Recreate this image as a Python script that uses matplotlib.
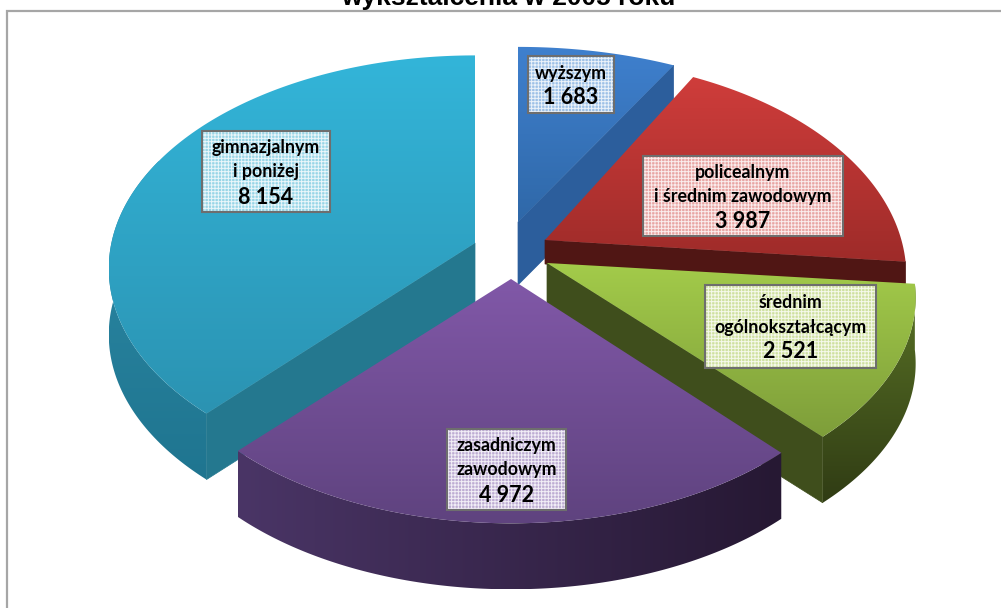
import numpy as np
import matplotlib
matplotlib.use("Agg")
import matplotlib.pyplot as plt
from matplotlib.patches import Polygon, Rectangle

# ---- data ----
categories = ["wyższym", "policealnym\ni średnim zawodowym", "średnim\nogólnokształcącym",
              "zasadniczym\nzawodowym", "gimnazjalnym\ni poniżej"]
values = [1683, 3987, 2521, 4972, 8154]
title_text = "wykształcenia w 2005 roku"

# ---- styles / layout (pixel space) ----
top_light = ["#3F80CE", "#CF3D3B", "#A3CB4A", "#8158A8", "#33B5D9"]
top_dark = ["#2F68A8", "#9E2B29", "#7E9E3A", "#5F437F", "#2B93B2"]
cut_col = ["#2C5E9C", "#501614", "#3F4E1C", "#3A2A55", "#24788F"]
rim_l = ["#2C5E9C", "#501614", "#5A7326", "#4A3566", "#2D8AA6"]
rim_r = ["#2C5E9C", "#501614", "#303C14", "#261833", "#1F7590"]
apex = [(518, 222), (545, 240), (547, 263), (511, 279), (475, 243)]
scale_x = [1.04, 0.99, 1.01, 0.99, 1.01]
scale_y = [1.0, 1.04, 1.0, 1.0, 1.03]
persp = [0.165, 0.165, 0.165, 0.165, 0.12]
depth = [63, 24, 66, 66, 66]
cut_at_start = [False, False, False, False, True]
box_pos = [(528, 56, 86, 57), (643, 156, 200, 80), (705, 285, 171, 83),
           (447, 429, 119, 81), (202, 131, 128, 81)]
box_tint = ["#9DC0E6", "#E8A5A3", "#CFE0A0", "#BDACD3", "#98D5E7"]
A, B = 360.0, 204.0

plt.rcParams["hatch.linewidth"] = 0.7
W, H = 1001, 608
fig = plt.figure(figsize=(W / 100, H / 100), dpi=100)
ax = fig.add_axes([0, 0, 1, 1])
ax.set_xlim(0, W)
ax.set_ylim(H, 0)
ax.axis("off")

ax.plot([7, 7, W], [H, 11, 11], color="#A6A6A6", lw=1.6, zorder=1, solid_joinstyle="miter")
ax.text(508, 5, title_text, ha="center", va="baseline", fontsize=19, fontweight="bold",
        family="Liberation Sans", color="black", clip_on=False)


def project(theta, i):
    X, Y = np.sin(theta), np.cos(theta)
    d = 1 + persp[i] * Y
    return apex[i][0] + scale_x[i] * A * X / d, apex[i][1] - scale_y[i] * B * Y / d


def hex2rgb(c):
    return np.array(matplotlib.colors.to_rgb(c))


def grad_fill(poly, c1, c2, z, horizontal=False):
    p = Polygon(poly, closed=True, fc="none", ec="none", zorder=z)
    ax.add_patch(p)
    xmin, ymin = poly.min(axis=0)
    xmax, ymax = poly.max(axis=0)
    t = np.linspace(0, 1, 128)
    col = hex2rgb(c1)[None, :] * (1 - t[:, None]) + hex2rgb(c2)[None, :] * t[:, None]
    img = col[None, :, :] if horizontal else col[:, None, :]
    im = ax.imshow(img, extent=(xmin, xmax, ymax, ymin), origin="upper", aspect="auto",
                   zorder=z, interpolation="bilinear")
    im.set_clip_path(p)


edges = np.concatenate([[0], np.cumsum(values)]) / sum(values) * 2 * np.pi
order = [0, 4, 1, 2, 3]
for n, i in enumerate(order):
    z = 2 + n
    t0, t1 = edges[i], edges[i + 1]
    th = np.linspace(t0, t1, 160)
    arc = np.column_stack(project(th, i))
    ap = np.array(apex[i], float)
    off = np.array([0, depth[i]])
    # outer rim
    if i in (2, 3, 4):
        mask = th < np.deg2rad(295)
        rim = np.vstack([arc[mask], (arc[mask] + off)[::-1]])
        grad_fill(rim, rim_l[i], rim_r[i], z, horizontal=(i == 3))
    # visible radial cut wall
    if i != 3:
        end = arc[0] if cut_at_start[i] else arc[-1]
        wall = np.array([ap, end, end + off, ap + off])
        ax.add_patch(Polygon(wall, closed=True, fc=cut_col[i], ec=cut_col[i], lw=0.5, zorder=z + 0.2))
    face = np.vstack([ap, arc])
    grad_fill(face, top_light[i], top_dark[i], z + 0.5)

for i, (x, y, w, h) in enumerate(box_pos):
    ax.add_patch(Rectangle((x, y), w, h, fc=box_tint[i], ec="none", zorder=20))
    ax.add_patch(Rectangle((x, y), w, h, fc="none", ec="white", hatch="+++++", lw=0, alpha=0.8, zorder=20.5))
    ax.add_patch(Rectangle((x, y), w, h, fc="none", ec="#6E6E6E", lw=1.5, zorder=21))
    lines = categories[i].split("\n")
    n = len(lines) + 1
    step = 24
    y0 = y + h / 2 - (n - 1) * step / 2 + 0.5
    for j, s in enumerate(lines):
        ax.text(x + w / 2, y0 + j * step, s, ha="center", va="center", fontsize=12.8, fontweight="bold",
                family="Lato", color="black", zorder=22)
    ax.text(x + w / 2, y0 + len(lines) * step + 1, f"{values[i]:,}".replace(",", " "), ha="center", va="center",
            fontsize=15.5, fontweight="bold", family="Lato", color="black", zorder=22)

ax.set_xlim(0, W)
ax.set_ylim(H, 0)
fig.savefig("out.png", dpi=100)
